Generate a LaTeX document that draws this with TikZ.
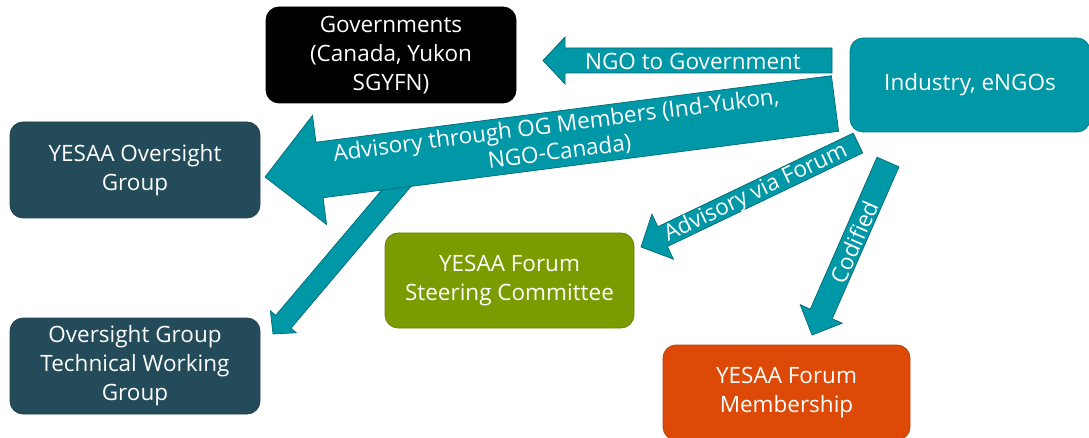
\documentclass[tikz,border=0pt]{standalone}
\usepackage{fontspec}
\setmainfont{Open Sans}
\usetikzlibrary{calc}

\definecolor{flowteal}{RGB}{0,151,167}
\definecolor{slate}{RGB}{36,75,90}
\definecolor{olive}{RGB}{122,156,1}
\definecolor{rust}{RGB}{221,74,7}

\tikzset{
  box/.style={rounded corners=13pt, minimum width=250pt, minimum height=96pt,
    align=center, text=white, font=\fontsize{22.5}{29}\selectfont,
    fill=#1, draw=#1!85!black, line width=0.8pt},
  flow/.style={fill=flowteal, draw=flowteal!70!black, line width=0.7pt},
  flowlabel/.style={text=white, align=center, inner sep=0pt,
    font=\fontsize{22.5}{27}\selectfont}
}

% block arrow: tail, tip, half body, half head, head length
\newcommand{\blockarrow}[5]{%
  \coordinate (hb) at ($(#2)!#5!(#1)$);
  \draw[flow] ($(#1)!#3!90:(#2)$) -- ($(hb)!#3!90:(#2)$) -- ($(hb)!#4!90:(#2)$)
    -- (#2) -- ($(hb)!#4!-90:(#2)$) -- ($(hb)!#3!-90:(#2)$)
    -- ($(#1)!#3!-90:(#2)$) -- cycle;
}

\begin{document}
\begin{tikzpicture}[x=1pt, y=-1pt]
  \useasboundingbox (0,0) rectangle (1089,438);

  % boxes
  \node[box=black] (gov) at (391,55) {Governments\\(Canada, Yukon\\SGYFN)};
  \node[box=flowteal, minimum width=240pt, minimum height=94pt] (ind) at (970,85) {Industry, eNGOs};
  \node[box=slate] (og) at (135,170) {YESAA Oversight\\Group};
  \node[box=slate] (twg) at (135,366) {Oversight Group\\Technical Working\\Group};
  \node[box=olive, minimum width=249pt, minimum height=95pt] (steer) at (509.5,280.5) {YESAA Forum\\Steering Committee};
  \node[box=rust, minimum width=247pt, minimum height=95pt] (memb) at (786.5,392.5) {YESAA Forum\\Membership};

  % arrow ends
  \coordinate (ngoT) at (832,60.5);
  \coordinate (ngoH) at (543,60.5);
  \coordinate (advT) at (835,103.5);
  \coordinate (advH) at (265,177);
  \coordinate (twgT) at (405,178);
  \coordinate (twgH) at (273,334);
  \coordinate (forT) at (858,143);
  \coordinate (forH) at (641,247);
  \coordinate (codT) at (888,162);
  \coordinate (codH) at (812,335);

  % arrows
  \blockarrow{ngoT}{ngoH}{12.5pt}{23.5pt}{22pt}
  \blockarrow{twgT}{twgH}{10pt}{17pt}{16pt}
  \blockarrow{advT}{advH}{28pt}{55pt}{55pt}
  \blockarrow{forT}{forH}{11pt}{25pt}{24pt}
  \blockarrow{codT}{codH}{12pt}{23pt}{23pt}

  % labels
  \node[flowlabel] (ngoL) at (693,61) {NGO to Government};
  \node[flowlabel, rotate=7.35] (advL) at (558,139) {Advisory through OG Members (Ind-Yukon,\\NGO-Canada)};
  \node[flowlabel, rotate=25.6] (forL) at (756,193) {Advisory via Forum};
  \node[flowlabel, rotate=66.3] (codL) at (854,242) {Codified};
\end{tikzpicture}
\end{document}
